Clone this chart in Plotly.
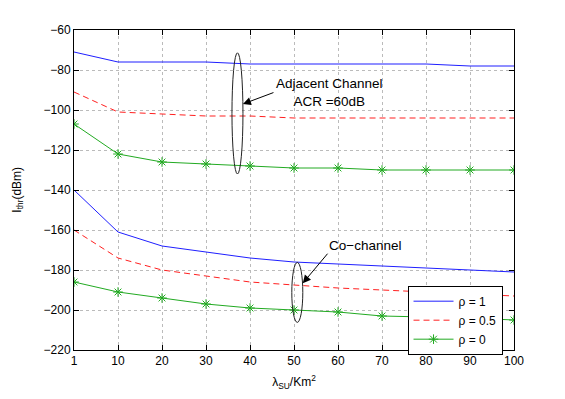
import plotly.graph_objects as go

# x categories (density of secondary users)
lam_su = ["1", "10", "20", "30", "40", "50", "60", "70", "80", "90", "100"]

# adjacent channel, ACR = 60 dB
adj_rho1 = [-71, -76, -76, -76, -77, -77, -77, -77, -77, -78, -78]
adj_rho05 = [-91, -101, -102, -103, -103, -104, -104, -104, -104, -104, -104]
adj_rho0 = [-107, -122, -126, -127, -128, -129, -129, -130, -130, -130, -130]

# co-channel
co_rho1 = [-140, -161, -168, -171, -174, -176, -177, -178, -179, -180, -181]
co_rho05 = [-160, -174, -180, -183, -186, -187.5, -189, -190, -191, -192, -193]
co_rho0 = [-186, -191, -194, -197, -199, -200, -201, -203, -203.5, -204, -205]

y_ticks = [-220, -200, -180, -160, -140, -120, -100, -80, -60]

BLUE = "#1f1fff"
RED = "#ff2020"
GREEN = "#22aa22"

fig = go.Figure()

def add_set(ys, color, dash, name, show, marker=None):
    fig.add_trace(go.Scatter(
        x=lam_su, y=ys, name=name, showlegend=show,
        mode="lines+markers" if marker else "lines",
        line=dict(color=color, width=1, dash=dash),
        marker=marker,
    ))

star = dict(symbol="asterisk-open", size=8, color=GREEN, line=dict(color=GREEN, width=1))

add_set(adj_rho1, BLUE, "solid", "ρ = 1", True)
add_set(adj_rho05, RED, "6px,4px", "ρ = 0.5", True)
add_set(adj_rho0, GREEN, "solid", "ρ = 0", True, star)
add_set(co_rho1, BLUE, "solid", "ρ = 1", False)
add_set(co_rho05, RED, "6px,4px", "ρ = 0.5", False)
add_set(co_rho0, GREEN, "solid", "ρ = 0", False, star)

# ellipses grouping the curves
fig.add_shape(type="circle", xref="x", yref="y", x0=3.59, x1=3.84, y0=-132, y1=-71.4,
              line=dict(color="#222222", width=1))
fig.add_shape(type="circle", xref="x", yref="y", x0=4.95, x1=5.2, y0=-206.2, y1=-176.2,
              line=dict(color="#222222", width=1))

# arrows + labels
fig.add_annotation(x=3.84, y=-97, ax=32, ay=-12, xref="x", yref="y", text="",
                   showarrow=True, arrowhead=2, arrowsize=1.6, arrowwidth=1, arrowcolor="black")
fig.add_annotation(x=5.2, y=-186.6, ax=26, ay=-31, xref="x", yref="y", text="",
                   showarrow=True, arrowhead=2, arrowsize=1.6, arrowwidth=1, arrowcolor="black")
fig.add_annotation(x=5.8, y=-91, xref="x", yref="y", showarrow=False,
                   text="Adjacent Channel<br>ACR =60dB", font=dict(size=13.5, color="black"))
fig.add_annotation(x=6.62, y=-167.5, xref="x", yref="y", showarrow=False,
                   text="Co−channel", font=dict(size=13.5, color="black"))

# y axis title placed by hand (closer to the tick labels)
fig.add_annotation(x=-0.128, y=0.5, xref="paper", yref="paper", showarrow=False,
                   xanchor="center", yanchor="middle", textangle=-90,
                   text="I<sub>thr</sub>(dBm)", font=dict(size=12, color="black"))

axis_common = dict(
    showline=True, linecolor="black", linewidth=1, mirror="ticks",
    ticks="inside", ticklen=5, tickcolor="black",
    showgrid=True, gridcolor="#bbbbbb", griddash="dot", gridwidth=1,
    zeroline=False, tickfont=dict(size=12, color="black"),
)

fig.update_xaxes(type="category", range=[0, 10],
                 title=dict(text="λ<sub>SU</sub>/Km<sup>2</sup>", font=dict(size=12, color="black"), standoff=10),
                 **axis_common)
fig.update_yaxes(range=[-220, -60], tickvals=y_ticks, **axis_common)

fig.update_layout(
    width=565, height=399,
    margin=dict(l=66, r=59, t=22, b=57),
    paper_bgcolor="white", plot_bgcolor="white",
    font=dict(family="Liberation Sans, Arial, sans-serif", size=12, color="black"),
    legend=dict(x=0.758, y=0.201, xanchor="left", yanchor="top",
                bgcolor="white", bordercolor="black", borderwidth=1,
                itemwidth=40, tracegroupgap=0, font=dict(size=12)),
)

fig.write_html("out.html")
